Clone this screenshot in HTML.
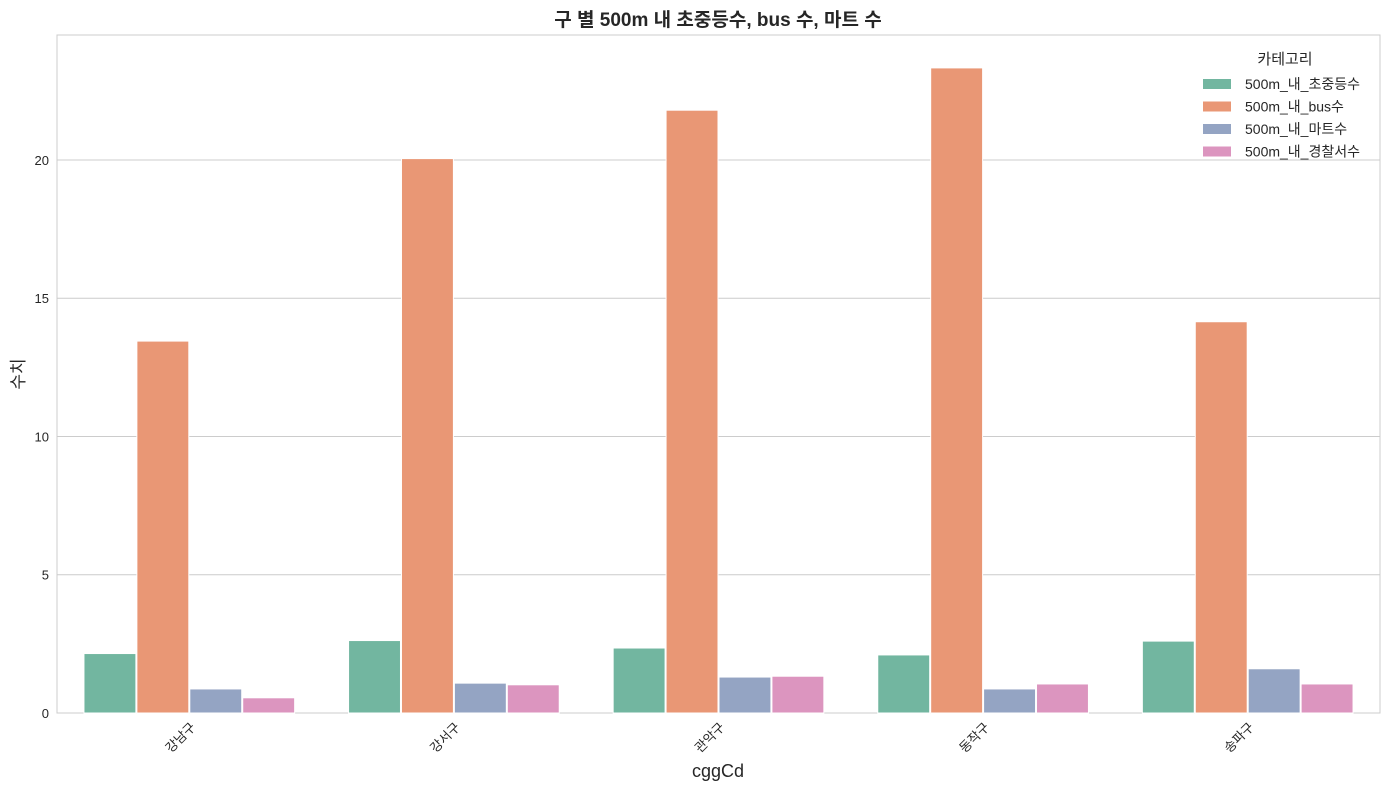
<!DOCTYPE html>
<html><head><meta charset="utf-8"><style>
body{margin:0;background:#fff;font-family:"Liberation Sans","Noto Sans CJK KR",sans-serif;}
svg text{font-family:"Liberation Sans","Noto Sans CJK KR",sans-serif;fill:#262626;}
</style></head><body>
<svg id="chart" width="1389" height="790" xmlns="http://www.w3.org/2000/svg"></svg>
<script>
const categories=["강남구","강서구","관악구","동작구","송파구"];
const seriesNames=["500m_내_초중등수","500m_내_bus수","500m_내_마트수","500m_내_경찰서수"];
const schoolVals=[2.15,2.62,2.35,2.1,2.6];
const busVals=[13.45,20.05,21.8,23.33,14.15];
const martVals=[0.87,1.08,1.3,0.87,1.6];
const policeVals=[0.55,1.02,1.33,1.05,1.05];
const yTicks=[0,5,10,15,20];
const colors=["#72b6a0","#e99775","#94a4c3","#dc95bf"];
const NS="http://www.w3.org/2000/svg";
const svg=document.getElementById('chart');
const L=57,R=1380,T=35,B=713,yMax=24.52;
const y=v=>B-v/yMax*(B-T);
const gW=(R-L)/categories.length;
function mk(tag,attrs,parent){const e=document.createElementNS(NS,tag);for(const k in attrs)e.setAttribute(k,attrs[k]);(parent||svg).appendChild(e);return e;}
yTicks.forEach(t=>{
 const g=mk('line',{x1:L,x2:R,y1:y(t),y2:y(t),stroke:'#cccccc','stroke-width':1});
 
 
 const tx=mk('text',{x:L-8,y:y(t)+5,'text-anchor':'end','font-size':13});
 tx.textContent=t;
 
 
});
const frame=mk('rect',{x:L,y:T,width:R-L,height:B-T,fill:'none',stroke:'#cccccc','stroke-width':1});


const all=[schoolVals,busVals,martVals,policeVals];
const bw=gW*0.8/4;
categories.forEach((c,i)=>{
 const cx=L+gW*(i+0.5);
 all.forEach((arr,s)=>{
  const x0=cx-2*bw+s*bw;
  const r=mk('rect',{x:x0+0.5,y:y(arr[i]),width:bw-1,height:B-y(arr[i]),fill:colors[s],stroke:'#fff','stroke-width':1});
  
  
 });
 const tx=mk('text',{x:cx+7,y:B+15,'text-anchor':'end','font-size':13,transform:`rotate(-45 ${cx+7} ${B+15})`});
 tx.textContent=c;
 
 
});
let t=mk('text',{x:718,y:26,'text-anchor':'middle','font-size':19,'font-weight':'bold'});
t.textContent="구 별 500m 내 초중등수, bus 수, 마트 수";


t=mk('text',{x:718,y:777,'text-anchor':'middle','font-size':18});
t.textContent="cggCd";


t=mk('text',{x:24,y:374,'text-anchor':'middle','font-size':17,transform:'rotate(-90 24 374)'});
t.textContent="수치";


t=mk('text',{x:1285,y:64,'text-anchor':'middle','font-size':15});
t.textContent="카테고리";


seriesNames.forEach((n,s)=>{
 const yy=84+s*22.5;
 const r=mk('rect',{x:1203,y:yy-5,width:28,height:10,fill:colors[s]});
 
 
 const tx=mk('text',{x:1245,y:yy+5,'font-size':14});
 tx.textContent=n;
 
 
});
</script>
</body></html>
